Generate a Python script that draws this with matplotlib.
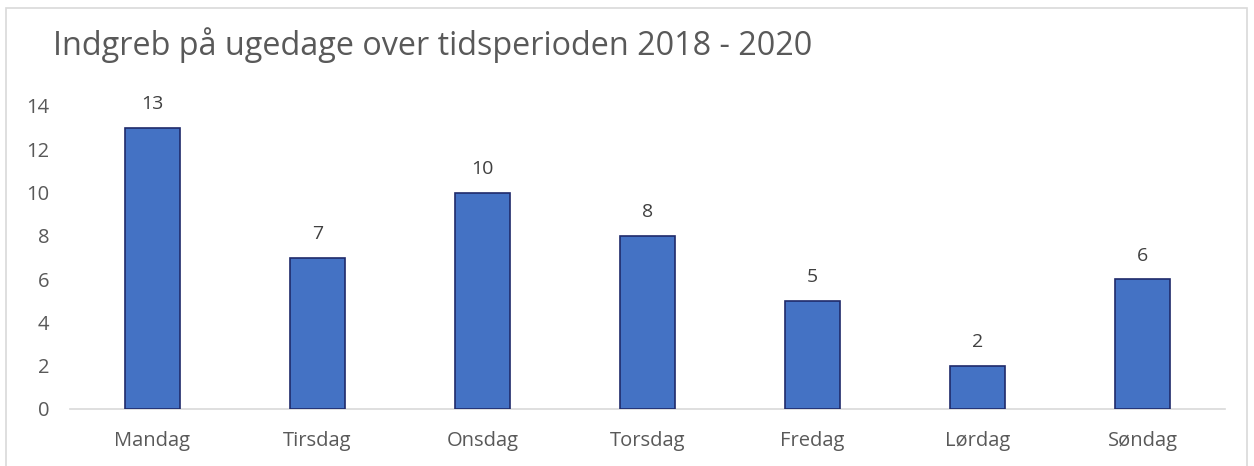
import matplotlib.pyplot as plt
from matplotlib.patches import Rectangle

days = ['Mandag', 'Tirsdag', 'Onsdag', 'Torsdag', 'Fredag', 'Lørdag', 'Søndag']
counts = [13, 7, 10, 8, 5, 2, 6]

plt.rcParams['font.family'] = ['Open Sans', 'DejaVu Sans']
text_grey = '#595959'

fig = plt.figure(figsize=(12.54, 4.66), dpi=100)
ax = fig.add_axes([70 / 1254, 1 - 409 / 466, 1155 / 1254, (409 - 106) / 466])

x = range(len(days))
bars = ax.bar(x, counts, width=0.33, color='#4472C4', edgecolor='#1F2A6B', linewidth=1.2, zorder=3)

# value labels above bars
for b, v in zip(bars, counts):
    ax.annotate(str(v), (b.get_x() + b.get_width() / 2, v), xytext=(0, 17),
                textcoords='offset points', ha='center', va='center',
                fontsize=14, color='#404040')

ax.set_xlim(-0.5, len(days) - 0.5)
ax.set_ylim(0, 14)
ax.set_yticks(range(0, 15, 2))
ax.set_xticks(list(x))
ax.set_xticklabels(days)
ax.tick_params(axis='both', length=0, labelsize=14.5, colors=text_grey)
ax.tick_params(axis='x', pad=16)
ax.tick_params(axis='y', pad=15)

for s in ['top', 'right', 'left']:
    ax.spines[s].set_visible(False)
ax.spines['bottom'].set_color('#D9D9D9')
ax.spines['bottom'].set_linewidth(1.2)

fig.text(53 / 1254, 1 - 55 / 466, 'Indgreb på ugedage over tidsperioden 2018 - 2020',
         fontsize=23.3, color=text_grey, va='baseline', ha='left')

# chart border
fig.patches.append(Rectangle((6 / 1254, -0.1), 1241 / 1254, 1.1 - 8 / 466,
                             transform=fig.transFigure, fill=False,
                             edgecolor='#D9D9D9', linewidth=1.2))

plt.savefig('out.png', dpi=100)
